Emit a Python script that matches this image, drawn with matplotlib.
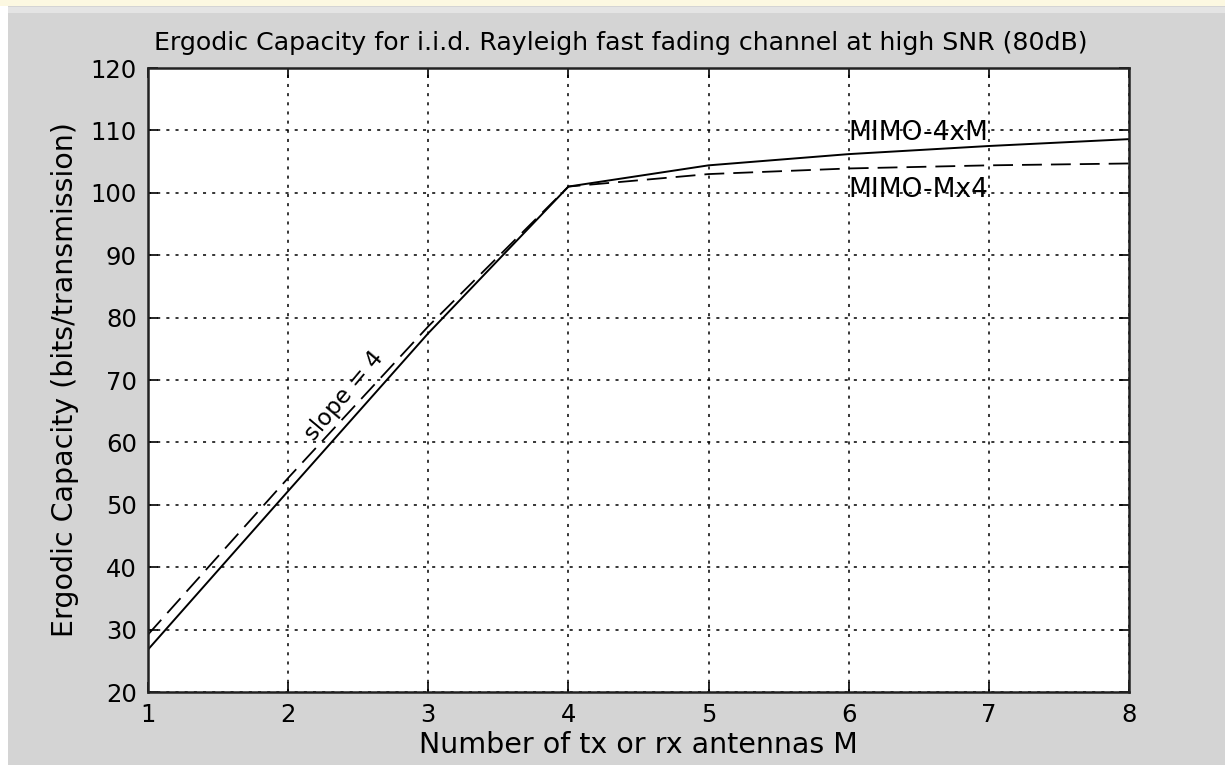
import matplotlib
matplotlib.use("Agg")
import matplotlib.pyplot as plt
from matplotlib.patches import Rectangle

antennas = [1, 2, 3, 4, 5, 6, 7, 8]
mimo_4xM = [26.8, 52.2, 77.5, 101.0, 104.4, 106.2, 107.5, 108.6]
mimo_Mx4 = [29.2, 54.3, 78.6, 101.0, 103.0, 103.9, 104.4, 104.7]
x_ticks = [1, 2, 3, 4, 5, 6, 7, 8]
y_ticks = [20, 30, 40, 50, 60, 70, 80, 90, 100, 110, 120]

plt.rcParams['font.family'] = ['DejaVu Sans']

fig = plt.figure(figsize=(12.25, 7.65), dpi=100)
fig.patch.set_facecolor('#d4d4d4')
# screenshot frame decorations
fig.patches.append(Rectangle((0, 0), 8/1225, 1, transform=fig.transFigure,
                             facecolor='white', edgecolor='none', zorder=0))
fig.patches.append(Rectangle((0, 1-6/765), 1, 6/765, transform=fig.transFigure,
                             facecolor='#fcf8e1', edgecolor='none', zorder=0))
fig.patches.append(Rectangle((8/1225, 1-13/765), 1, 6/765, transform=fig.transFigure,
                             facecolor='#e4e4e4', edgecolor='none', zorder=0))

ax = fig.add_axes([148/1225, 1-692/765, (1129-148)/1225, (692-68)/765])
ax.set_facecolor('white')

ax.plot(antennas, mimo_4xM, color='black', lw=1.4, linestyle='-')
ax.plot(antennas, mimo_Mx4, color='black', lw=1.3, linestyle=(0, (11, 5)))

ax.set_xlim(1, 8)
ax.set_ylim(20, 120)
ax.set_xticks(x_ticks)
ax.set_yticks(y_ticks)
ax.grid(True, color='black', linestyle=(0, (2, 4)), lw=1.1)
ax.tick_params(direction='in', length=7, width=1.2, top=True, right=True,
               labelsize=17.5, pad=8, colors='black')
for s in ax.spines.values():
    s.set_linewidth(1.8)
    s.set_color('#222222')

ax.set_title('Ergodic Capacity for i.i.d. Rayleigh fast fading channel at high SNR (80dB)',
             fontsize=18.2, pad=13, x=0.482)
ax.set_xlabel('Number of tx or rx antennas M', fontsize=20.5, labelpad=3)
ax.set_ylabel('Ergodic Capacity (bits/transmission)', fontsize=20.5, labelpad=8)

ax.text(6.0, 109.6, 'MIMO-4xM', fontsize=19, va='center', ha='left')
ax.text(6.0, 100.4, 'MIMO-Mx4', fontsize=19, va='center', ha='left')
ax.text(2.4, 67.5, 'slope = 4', fontsize=16.5, rotation=50, va='center', ha='center',
        rotation_mode='anchor')

fig.savefig('out.png', dpi=100, facecolor=fig.get_facecolor())
